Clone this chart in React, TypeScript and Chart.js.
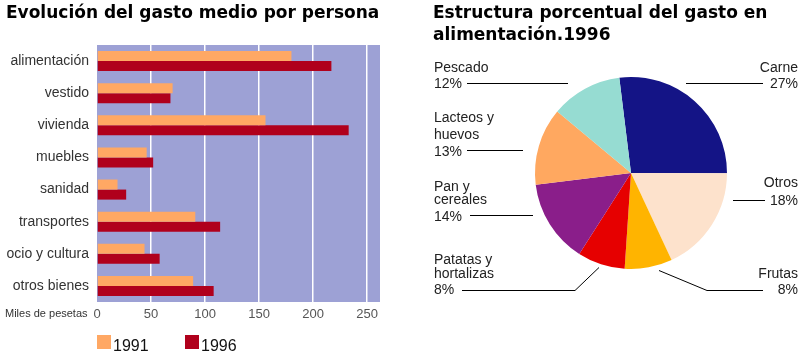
import React, { useEffect, useRef } from 'react';
import { Chart, registerables } from 'chart.js';

Chart.register(...registerables);

const FONT = '"Liberation Sans", Arial, Helvetica, sans-serif';
const TITLE_FONT = '"DejaVu Sans", "Liberation Sans", Arial, sans-serif';

// ---- Bar chart data ----
const barTitle = 'Evolución del gasto medio por persona';
const categories = ['alimentación', 'vestido', 'vivienda', 'muebles', 'sanidad', 'transportes', 'ocio y cultura', 'otros bienes'];
const seriesNames = ['1991', '1996'];
const gasto1991 = [180, 70, 156, 46, 19, 91, 44, 89];
const gasto1996 = [217, 68, 233, 52, 27, 114, 58, 108];
const xTicks = [0, 50, 100, 150, 200, 250];
const xMax = 262;
const unitLabel = 'Miles de pesetas';
const barColors = ['#ffa864', '#b0001c'];

// ---- Pie chart data ----
const pieTitle = ['Estructura porcentual del gasto en', 'alimentación.1996'];
const pieCategories = ['Carne', 'Otros', 'Frutas', 'Patatas y hortalizas', 'Pan y cereales', 'Lacteos y huevos', 'Pescado'];
const pieValues = [27, 18, 8, 8, 14, 13, 12];
const pieTextLines = [
  ['Carne', '27%'],
  ['Otros', '18%'],
  ['Frutas', '8%'],
  ['Patatas y', 'hortalizas', '8%'],
  ['Pan y', 'cereales', '14%'],
  ['Lacteos y', 'huevos', '13%'],
  ['Pescado', '12%'],
];
const pieColors = ['#141486', '#fde2cc', '#ffb400', '#e60000', '#8a1e8a', '#ffa860', '#96dcd2'];

// label layout, offsets relative to the pie centre
const pieLabelLayout = [
  { align: 'right', dx: 167, dys: [-105, -89], line: [[55, -90], [132, -90]] },
  { align: 'right', dx: 167, dys: [10, 28], line: [[102, 27], [134, 27]] },
  { align: 'right', dx: 167, dys: [101, 117], line: [[28, 97], [76, 117], [132, 117]] },
  { align: 'left', dx: -197, dys: [87, 101, 117], line: [[-32, 94], [-56, 117], [-169, 117]] },
  { align: 'left', dx: -197, dys: [14, 27, 44], line: [[-98, 42], [-161, 42]] },
  { align: 'left', dx: -197, dys: [-55, -38, -21], line: [[-108, -23], [-164, -23]] },
  { align: 'left', dx: -197, dys: [-105, -89], line: [[-63, -90], [-164, -90]] },
];

const barDecor = {
  id: 'barDecor',
  beforeDraw(chart: any) {
    const { ctx, chartArea } = chart;
    ctx.save();
    ctx.fillStyle = '#9da1d5';
    ctx.fillRect(chartArea.left, chartArea.top, chartArea.right - chartArea.left, chartArea.bottom - chartArea.top);
    ctx.restore();
  },
  afterDraw(chart: any) {
    const { ctx, chartArea } = chart;
    ctx.save();
    ctx.fillStyle = '#000';
    ctx.font = `bold 17px ${TITLE_FONT}`;
    ctx.textAlign = 'left';
    ctx.textBaseline = 'alphabetic';
    ctx.fillText(barTitle, 6, 18);

    ctx.fillStyle = '#333';
    ctx.font = `11px ${FONT}`;
    ctx.textBaseline = 'middle';
    ctx.fillText(unitLabel, 5, chartArea.bottom + 12);

    ctx.textBaseline = 'alphabetic';
    ctx.font = `16px ${FONT}`;
    seriesNames.forEach((name, i) => {
      const x = chartArea.left + i * 88;
      const y = chartArea.bottom + 33;
      ctx.fillStyle = barColors[i];
      ctx.fillRect(x, y, 14, 14);
      ctx.fillStyle = '#111';
      ctx.fillText(name, x + 16, y + 16);
    });
    ctx.restore();
  },
};

const pieDecor = {
  id: 'pieDecor',
  afterDraw(chart: any) {
    const { ctx } = chart;
    const arc = chart.getDatasetMeta(0).data[0];
    const cx = arc.x;
    const cy = arc.y;
    ctx.save();
    ctx.fillStyle = '#000';
    ctx.font = `bold 17px ${TITLE_FONT}`;
    ctx.textAlign = 'left';
    ctx.textBaseline = 'alphabetic';
    ctx.fillText(pieTitle[0], 33, 18);
    ctx.fillText(pieTitle[1], 33, 40);

    ctx.font = `14px ${FONT}`;
    ctx.textBaseline = 'middle';
    ctx.strokeStyle = '#000';
    ctx.lineWidth = 1;
    pieLabelLayout.forEach((lay, i) => {
      ctx.fillStyle = '#222';
      ctx.textAlign = lay.align as CanvasTextAlign;
      pieTextLines[i].forEach((t, j) => {
        ctx.fillText(t, cx + lay.dx, cy + lay.dys[j]);
      });
      ctx.beginPath();
      lay.line.forEach((p, k) => {
        const x = cx + p[0];
        const y = Math.round(cy + p[1]) + 0.5;
        if (k === 0) ctx.moveTo(x, y);
        else ctx.lineTo(x, y);
      });
      ctx.stroke();
    });
    ctx.restore();
  },
};

export default function App() {
  const barRef = useRef<HTMLCanvasElement>(null);
  const pieRef = useRef<HTMLCanvasElement>(null);

  useEffect(() => {
    const bar = new Chart(barRef.current as HTMLCanvasElement, {
      type: 'bar',
      data: {
        labels: categories,
        datasets: [
          { label: seriesNames[0], data: gasto1991, backgroundColor: barColors[0], borderWidth: 0, categoryPercentage: 0.625, barPercentage: 1 },
          { label: seriesNames[1], data: gasto1996, backgroundColor: barColors[1], borderWidth: 0, categoryPercentage: 0.625, barPercentage: 1 },
        ],
      },
      options: {
        indexAxis: 'y',
        responsive: false,
        animation: false,
        layout: { padding: { left: 0, right: 20, top: 45, bottom: 0 } },
        plugins: { legend: { display: false }, tooltip: { enabled: false }, title: { display: false } },
        scales: {
          x: {
            min: 0,
            max: xMax,
            afterBuildTicks: (scale: any) => {
              scale.ticks = xTicks.map((value) => ({ value }));
            },
            afterFit: (scale: any) => {
              scale.height = 54;
            },
            grid: {
              color: (c: any) => (c.tick && c.tick.value === 0 ? 'rgba(0,0,0,0)' : '#ffffff'),
              lineWidth: 1.5,
              drawTicks: false,
            },
            border: { display: false },
            ticks: { color: '#555', font: { family: FONT, size: 13 }, padding: 5 },
          },
          y: {
            afterFit: (scale: any) => {
              scale.width = 97;
            },
            grid: { display: false, drawTicks: false },
            border: { display: false },
            ticks: { color: '#333', font: { family: FONT, size: 14 }, padding: 8 },
          },
        },
      },
      plugins: [barDecor],
    } as any);

    const pie = new Chart(pieRef.current as HTMLCanvasElement, {
      type: 'pie',
      data: {
        labels: pieCategories,
        datasets: [{ data: pieValues, backgroundColor: pieColors, borderWidth: 0 }],
      },
      options: {
        responsive: false,
        animation: false,
        rotation: -7,
        layout: { padding: { left: 135, right: 82, top: 77, bottom: 87 } },
        plugins: { legend: { display: false }, tooltip: { enabled: false } },
      },
      plugins: [pieDecor],
    } as any);

    return () => {
      bar.destroy();
      pie.destroy();
    };
  }, []);

  return (
    <div style={{ position: 'absolute', left: 0, top: 0, width: 809, height: 356, background: '#fff' }}>
      <canvas ref={barRef} width={400} height={356} style={{ position: 'absolute', left: 0, top: 0, display: 'block' }} />
      <canvas ref={pieRef} width={409} height={356} style={{ position: 'absolute', left: 400, top: 0, display: 'block' }} />
    </div>
  );
}
